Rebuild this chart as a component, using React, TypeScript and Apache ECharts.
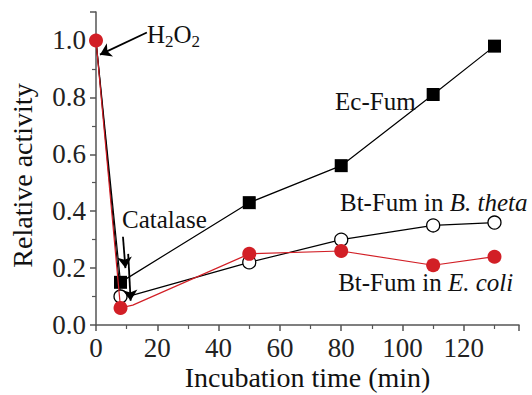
import React, { useEffect, useRef } from "react";
import * as echarts from "echarts";

// Incubation time (min) and relative activity
const timeEc = [0, 8, 11, 50, 80, 110, 130];
const ecFum = [1.0, 0.15, 0.17, 0.43, 0.56, 0.81, 0.98];
const timeBt = [0, 8, 12, 50, 80, 110, 130];
const btTheta = [1.0, 0.1, 0.105, 0.22, 0.3, 0.35, 0.36];
const timeCo = [0, 8, 12, 50, 80, 110, 130];
const btColi = [1.0, 0.06, 0.07, 0.25, 0.26, 0.21, 0.24];
// indices of points drawn without a marker (hidden under other markers / post-catalase)
const hiddenBlack = [0, 2];
const hiddenRed = [2];

const xTicks = [0, 20, 40, 60, 80, 100, 120];
const yTicks = [0, 0.2, 0.4, 0.6, 0.8, 1.0];
const xTitle = "Incubation time (min)";
const yTitle = "Relative activity";

// annotations: [x, y] in data units
const labelEc = [78, 0.785];
const labelTheta = [79.6, 0.43];
const labelColi = [79, 0.148];
const labelCat = [8.5, 0.37];
const labelH2O2 = [16.6, 1.02];
const arrowH2O2 = [[16.6, 1.028], [1.3, 0.95]];
const arrowCat1 = [[8.8, 0.31], [9.6, 0.2]];
const arrowCat2 = [[10.5, 0.25], [11.3, 0.085]];

const FONT = "Liberation Serif";
const RED = "#d21f26";

function build(xs: number[], ys: number[], hidden: number[]) {
  return xs.map((x, i) =>
    hidden.includes(i) ? { value: [x, ys[i]], symbol: "none" } : [x, ys[i]]
  );
}

export default function App() {
  const ref = useRef<HTMLDivElement>(null);
  useEffect(() => {
    if (!ref.current) return;
    const chart = echarts.init(ref.current, undefined, { renderer: "svg" });
    const arrowLine = (pts: number[][]) => [{ coord: pts[0] }, { coord: pts[1] }];
    const axisCommon = {
      axisLine: { show: true, onZero: false, lineStyle: { color: "#555", width: 1.5 } },
      axisTick: { show: true, inside: false, length: 6, lineStyle: { color: "#555", width: 1.5 } },
      minorTick: { show: true, splitNumber: 2, length: 4, lineStyle: { color: "#555", width: 1.2 } },
      splitLine: { show: false },
      axisLabel: { show: false },
    };
    chart.setOption({
      animation: false,
      backgroundColor: "#ffffff",
      textStyle: { fontFamily: FONT },
      grid: {
        left: 96,
        right: 13,
        top: 12,
        bottom: 70,
        containLabel: false,
        outerBoundsMode: "none",
      },
      xAxis: { type: "value", min: 0, max: 138, interval: 20, ...axisCommon },
      yAxis: { type: "value", min: 0, max: 1.1, interval: 0.2, ...axisCommon },
      series: [
        {
          name: "Ec-Fum",
          type: "line",
          data: build(timeEc, ecFum, hiddenBlack),
          symbol: "rect",
          symbolSize: 13,
          itemStyle: { color: "#000" },
          lineStyle: { color: "#000", width: 1.2 },
          z: 2,
          markLine: {
            silent: true,
            symbol: ["none", "arrow"],
            symbolSize: 11,
            label: { show: false },
            lineStyle: { color: "#000", width: 1.8, type: "solid" },
            emphasis: { disabled: true },
            data: [arrowLine(arrowH2O2), arrowLine(arrowCat1), arrowLine(arrowCat2)],
          },
        },
        {
          name: "Bt-Fum in B. theta",
          type: "line",
          data: build(timeBt, btTheta, hiddenBlack),
          symbol: "circle",
          symbolSize: 13,
          itemStyle: { color: "#fff", borderColor: "#000", borderWidth: 1.3 },
          lineStyle: { color: "#000", width: 1.2 },
          z: 3,
        },
        {
          name: "Bt-Fum in E. coli",
          type: "line",
          data: build(timeCo, btColi, hiddenRed),
          symbol: "circle",
          symbolSize: 14,
          itemStyle: { color: RED },
          lineStyle: { color: RED, width: 1.2 },
          z: 4,
        },
      ],
    });

    const toPx = (p: number[]) => chart.convertToPixel({ gridIndex: 0 }, p) as number[];
    const x0 = toPx([0, 0]);
    const x1 = toPx([138, 1.1]);
    const text = (
      x: number,
      y: number,
      t: string,
      opts: any = {},
      rich?: any
    ) => ({
      type: "text",
      x,
      y,
      z: 100,
      rotation: opts.rotation || 0,
      style: {
        text: t,
        fontFamily: FONT,
        fontSize: opts.fontSize || 25,
        fill: opts.fill || "#111",
        verticalAlign: opts.va || "middle",
        align: opts.align || "left",
        rich,
      },
    });
    const subRich = {
      a: { fontFamily: FONT, fontSize: 25, fill: "#111", color: "#111" },
      s: { fontFamily: FONT, fontSize: 17, fill: "#111", color: "#111", padding: [14, 0, 0, 0] },
      i: { fontFamily: FONT, fontSize: 25, fontStyle: "italic", fill: "#111", color: "#111" },
    };
    const ann = (p: number[], t: string, rich?: any) => {
      const [px, py] = toPx(p);
      return text(px, py, t, {}, rich);
    };
    const graphics: any[] = [];
    xTicks.forEach((v) => {
      const [px] = toPx([v, 0]);
      graphics.push(text(px, x0[1] + 23, String(v), { fontSize: 27, align: "center", fill: "#222" }));
    });
    yTicks.forEach((v) => {
      const [, py] = toPx([0, v]);
      graphics.push(text(x0[0] - 10, py, v.toFixed(1), { fontSize: 27, align: "right", fill: "#222" }));
    });
    graphics.push(
      text((x0[0] + x1[0]) / 2, x0[1] + 52, xTitle, { fontSize: 28, align: "center" })
    );
    graphics.push(
      text(22, (x0[1] + x1[1]) / 2 + 7, yTitle, {
        fontSize: 28,
        align: "center",
        rotation: Math.PI / 2,
      })
    );
    graphics.push(
      ann(labelEc, "Ec-Fum"),
      ann(labelTheta, "{a|Bt-Fum in }{i|B. theta}", subRich),
      ann(labelColi, "{a|Bt-Fum in }{i|E. coli}", subRich),
      ann(labelCat, "Catalase"),
      ann(labelH2O2, "{a|H}{s|2}{a|O}{s|2}", subRich)
    );
    chart.setOption({ graphic: graphics });
    return () => chart.dispose();
  }, []);
  return (
    <div
      ref={ref}
      style={{ position: "fixed", left: 0, top: 0, width: 532, height: 395 }}
    />
  );
}
